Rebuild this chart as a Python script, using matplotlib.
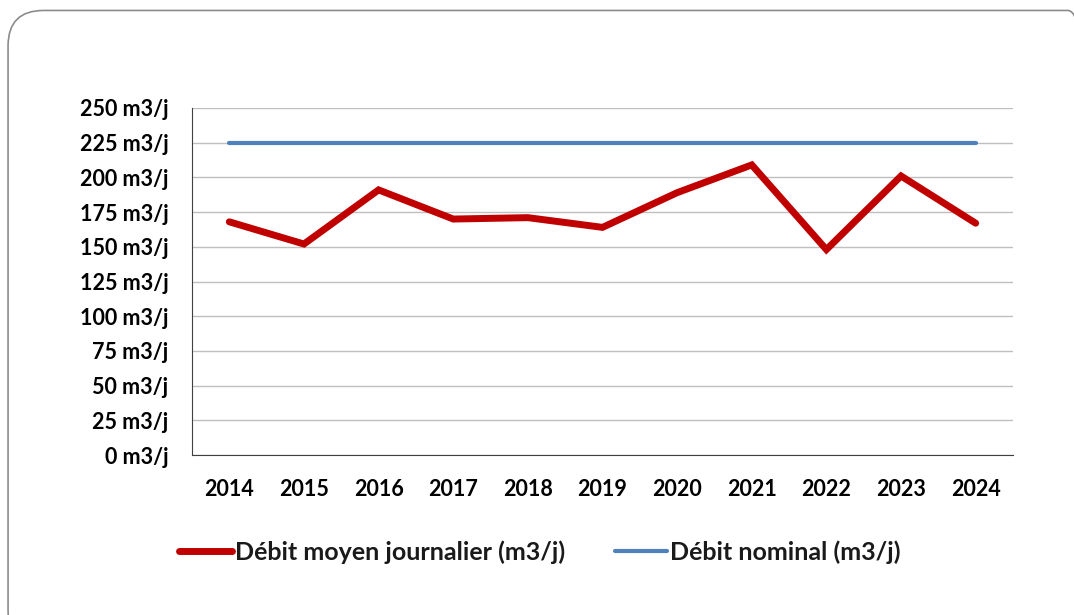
import numpy as np
import matplotlib.pyplot as plt
from matplotlib.patches import FancyBboxPatch

years = ['2014', '2015', '2016', '2017', '2018', '2019', '2020', '2021', '2022', '2023', '2024']
debit_moyen = [168, 152, 191, 170, 171, 164, 189, 209, 148, 201, 167]
debit_nominal = [225] * len(years)
yticks = [0, 25, 50, 75, 100, 125, 150, 175, 200, 225, 250]

plt.rcParams['font.family'] = ['Lato', 'DejaVu Sans']

fig = plt.figure(figsize=(10.74, 6.15), dpi=100)

# rounded frame around the chart (runs off the right and bottom edges)
frame = FancyBboxPatch((0.0075, -0.05), 1.02, 1.033, boxstyle='round,pad=0,rounding_size=0.033',
                       transform=fig.transFigure, facecolor='none', edgecolor='#8c8c8c',
                       linewidth=1.2, mutation_aspect=1.75, zorder=0)
fig.patches.append(frame)

ax = fig.add_axes([192 / 1074, 1 - 455 / 615, (1013 - 192) / 1074, (455 - 108) / 615])
ax.set_facecolor('none')
x = np.arange(len(years))

ax.plot(x, debit_moyen, color='#c00000', linewidth=5, solid_capstyle='round',
        solid_joinstyle='miter', label='Débit moyen journalier (m3/j)', zorder=3)
ax.plot(x, debit_nominal, color='#4f81bd', linewidth=3, solid_capstyle='round',
        label='Débit nominal (m3/j)', zorder=3)

ax.set_xlim(-0.5, len(years) - 0.5)
ax.set_ylim(0, 250)
ax.set_yticks(yticks)
ax.set_yticklabels([f'{v} m3/j' for v in yticks])
ax.set_xticks(x)
ax.set_xticklabels(years)
ax.grid(axis='y', color='#bfbfbf', linewidth=1)
ax.set_axisbelow(True)

for side in ['top', 'right']:
    ax.spines[side].set_visible(False)
ax.spines['left'].set_color('#404040')
ax.spines['bottom'].set_color('#404040')
ax.tick_params(axis='both', length=0, labelsize=15.5, colors='black')
ax.tick_params(axis='x', pad=17)
ax.tick_params(axis='y', pad=17)
for lbl in ax.get_xticklabels() + ax.get_yticklabels():
    lbl.set_fontweight('bold')

leg = fig.legend(loc='center', bbox_to_anchor=(540 / 1074, 1 - 552 / 615), ncol=2, frameon=False,
                 prop={'size': 18, 'weight': 'bold'}, handlelength=2.1, handletextpad=0.12,
                 columnspacing=2.0)
for t in leg.get_texts():
    t.set_color('#1a1a1a')

fig.savefig('out.png', dpi=100)
